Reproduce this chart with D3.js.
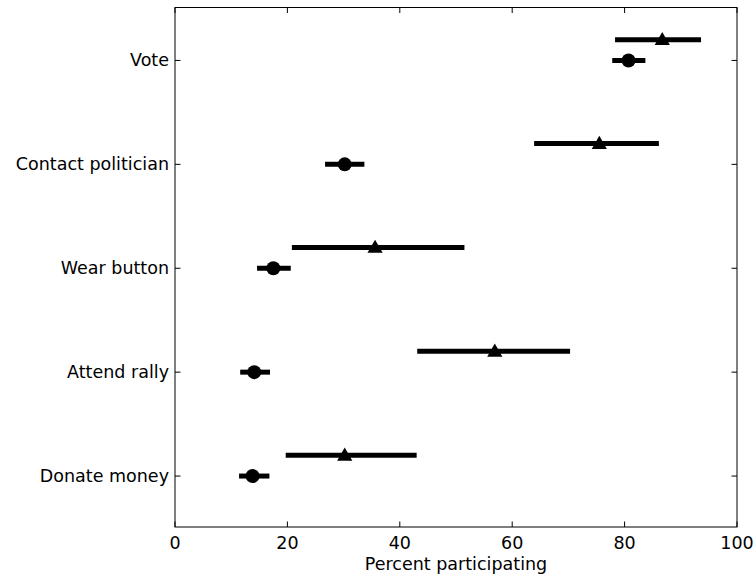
<!DOCTYPE html>
<html>
<head>
<meta charset="utf-8">
<script src="https://cdn.jsdelivr.net/npm/d3@7"></script>
<style>
  body { margin: 0; background: #fff; }
  text { font-family: "DejaVu Sans", sans-serif; }
</style>
</head>
<body>
<div id="chart"></div>
<script>
// categories, bottom to top
const categories = ["Donate money", "Attend rally", "Wear button", "Contact politician", "Vote"];

// circle series: point and interval
const circleMid = [13.8, 14.1, 17.5, 30.2, 80.7];
const circleLo  = [11.4, 11.6, 14.6, 26.7, 77.8];
const circleHi  = [16.8, 16.9, 20.6, 33.7, 83.7];

// triangle series: point and interval
const triMid = [30.2, 56.9, 35.6, 75.5, 86.7];
const triLo  = [19.7, 43.1, 20.8, 63.9, 78.3];
const triHi  = [43.0, 70.3, 51.5, 86.1, 93.6];

const xTicks = [0, 20, 40, 60, 80, 100];

const width = 756, height = 576;
const margin = {top: 7.5, right: 19, bottom: 49, left: 175};
const fontSize = "17.5px";

const svg = d3.select("#chart")
  .append("svg")
  .attr("width", width)
  .attr("height", height);

const x = d3.scaleLinear()
  .domain([0, 100])
  .range([margin.left, width - margin.right]);

const y = d3.scaleLinear()
  .domain([-0.5, categories.length - 0.5])
  .range([height - margin.bottom, margin.top]);

const triOffset = 0.2;
const tickLen = 5.5;

const rows = categories.map((c, i) => ({
  name: c, i: i,
  cMid: circleMid[i], cLo: circleLo[i], cHi: circleHi[i],
  tMid: triMid[i], tLo: triLo[i], tHi: triHi[i]
}));

const g = svg.append("g");

// interval lines
g.selectAll(".cline")
  .data(rows)
  .enter()
  .append("line")
  .attr("x1", d => x(d.cLo))
  .attr("x2", d => x(d.cHi))
  .attr("y1", d => y(d.i) + 1)
  .attr("y2", d => y(d.i) + 1)
  .style("stroke", "black")
  .style("stroke-width", 5);

g.selectAll(".tline")
  .data(rows)
  .enter()
  .append("line")
  .attr("x1", d => x(d.tLo))
  .attr("x2", d => x(d.tHi))
  .attr("y1", d => y(d.i + triOffset) + 1)
  .attr("y2", d => y(d.i + triOffset) + 1)
  .style("stroke", "black")
  .style("stroke-width", 5);

// markers
g.selectAll(".dot")
  .data(rows)
  .enter()
  .append("circle")
  .attr("cx", d => x(d.cMid))
  .attr("cy", d => y(d.i) + 1)
  .attr("r", 7)
  .style("fill", "black");

const triSym = d3.symbol().type(d3.symbolTriangle).size(100);
g.selectAll(".tri")
  .data(rows)
  .enter()
  .append("path")
  .attr("d", triSym)
  .attr("transform", d => `translate(${x(d.tMid)},${y(d.i + triOffset) + 2})`)
  .style("fill", "black");

// frame
const x0 = x(0), x1 = x(100), yTop = y(categories.length - 0.5), yBot = y(-0.5);
svg.append("rect")
  .attr("x", x0)
  .attr("y", yTop)
  .attr("width", x1 - x0)
  .attr("height", yBot - yTop)
  .style("fill", "none")
  .style("stroke", "black")
  .style("stroke-width", 1);

// x ticks, bottom and top, pointing in
const xAxis = svg.append("g");
xAxis.selectAll(".xtb")
  .data(xTicks)
  .enter()
  .append("line")
  .attr("x1", d => x(d)).attr("x2", d => x(d))
  .attr("y1", yBot).attr("y2", yBot - tickLen)
  .style("stroke", "black");
xAxis.selectAll(".xtt")
  .data(xTicks)
  .enter()
  .append("line")
  .attr("x1", d => x(d)).attr("x2", d => x(d))
  .attr("y1", yTop).attr("y2", yTop + tickLen)
  .style("stroke", "black");
xAxis.selectAll(".xl")
  .data(xTicks)
  .enter()
  .append("text")
  .attr("x", d => x(d))
  .attr("y", yBot + 22)
  .attr("text-anchor", "middle")
  .style("font-size", fontSize)
  .text(d => d);

svg.append("text")
  .attr("x", (x0 + x1) / 2)
  .attr("y", yBot + 43)
  .attr("text-anchor", "middle")
  .style("font-size", fontSize)
  .text("Percent participating");

// y ticks, left and right, pointing in
const yAxis = svg.append("g");
yAxis.selectAll(".ytl")
  .data(rows)
  .enter()
  .append("line")
  .attr("x1", x0).attr("x2", x0 + tickLen)
  .attr("y1", d => y(d.i) + 1).attr("y2", d => y(d.i) + 1)
  .style("stroke", "black");
yAxis.selectAll(".ytr")
  .data(rows)
  .enter()
  .append("line")
  .attr("x1", x1).attr("x2", x1 - tickLen)
  .attr("y1", d => y(d.i) + 1).attr("y2", d => y(d.i) + 1)
  .style("stroke", "black");
yAxis.selectAll(".yl")
  .data(rows)
  .enter()
  .append("text")
  .attr("x", x0 - 6)
  .attr("y", d => y(d.i) + 1)
  .attr("text-anchor", "end")
  .attr("dominant-baseline", "central")
  .style("font-size", fontSize)
  .text(d => d.name);
</script>
</body>
</html>
